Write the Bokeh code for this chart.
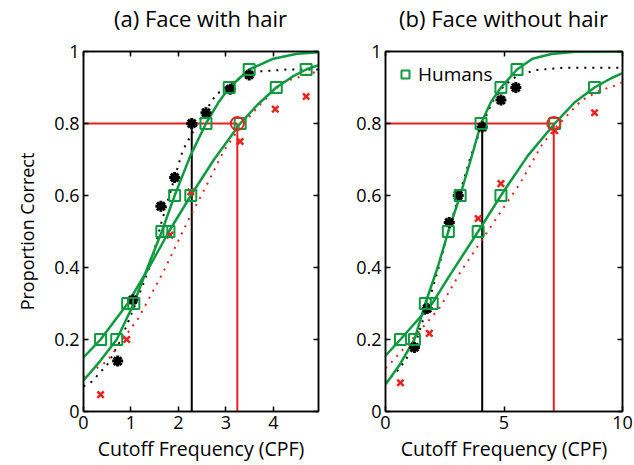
from bokeh.plotting import figure
from bokeh.layouts import row, column
from bokeh.models import FixedTicker, LinearAxis, Range1d, Div
from bokeh.embed import file_html
from bokeh.resources import INLINE

GREEN = "#0e9a3f"
RED = "#e8231f"
FONT = "Open Sans"

# ---------------- data: panel (a) Face with hair ----------------
a_title = "(a) Face with hair"
a_h1_x = [0.70, 1.06, 1.65, 1.92, 2.58, 3.07, 3.49]
a_h1_y = [0.20, 0.30, 0.50, 0.60, 0.80, 0.90, 0.95]
a_h2_x = [0.36, 0.93, 1.80, 2.26, 3.30, 4.06, 4.69]
a_h2_y = [0.20, 0.30, 0.50, 0.60, 0.80, 0.90, 0.95]
a_f1_x = [0.0, 0.35, 0.70, 1.06, 1.35, 1.65, 1.92, 2.25, 2.58, 2.85, 3.07, 3.49, 4.0, 4.5, 4.95]
a_f1_y = [0.086, 0.14, 0.20, 0.30, 0.40, 0.50, 0.60, 0.71, 0.80, 0.86, 0.90, 0.95, 0.98, 0.994, 0.998]
a_f2_x = [0.0, 0.36, 0.93, 1.38, 1.80, 2.26, 2.75, 3.30, 3.65, 4.06, 4.40, 4.69, 4.95]
a_f2_y = [0.15, 0.20, 0.30, 0.40, 0.50, 0.60, 0.70, 0.80, 0.85, 0.90, 0.93, 0.95, 0.962]
a_m1_x = [0.72, 1.04, 1.63, 1.92, 2.28, 2.58, 3.09, 3.49]
a_m1_y = [0.14, 0.31, 0.57, 0.65, 0.80, 0.83, 0.895, 0.935]
a_m1c_x = [0.0, 0.15, 0.5, 0.78, 1.1, 1.42, 1.63, 2.09, 2.4, 2.79, 3.2, 3.74, 4.3, 4.95]
a_m1c_y = [0.07, 0.08, 0.13, 0.197, 0.30, 0.41, 0.52, 0.725, 0.80, 0.88, 0.92, 0.945, 0.95, 0.95]
a_m2_x = [0.36, 0.91, 1.82, 2.26, 3.30, 4.04, 4.69]
a_m2_y = [0.047, 0.20, 0.49, 0.61, 0.75, 0.84, 0.875]
a_m2c_x = [0.0, 0.5, 1.16, 1.69, 2.2, 2.6, 2.96, 3.3, 3.7, 4.2, 4.8, 4.95]
a_m2c_y = [0.095, 0.14, 0.26, 0.39, 0.53, 0.63, 0.725, 0.79, 0.85, 0.915, 0.94, 0.945]
a_thr_black = 2.28
a_thr_red = 3.24
a_xticks = [0, 1, 2, 3, 4]

# ---------------- data: panel (b) Face without hair ----------------
b_title = "(b) Face without hair"
b_h1_x = [1.22, 1.68, 2.65, 3.15, 4.03, 4.87, 5.55]
b_h1_y = [0.20, 0.30, 0.50, 0.60, 0.80, 0.90, 0.95]
b_h2_x = [0.63, 1.97, 3.91, 4.87, 7.14, 8.82]
b_h2_y = [0.20, 0.30, 0.50, 0.60, 0.80, 0.90]
b_f1_x = [0.0, 0.6, 1.22, 1.68, 2.2, 2.65, 3.15, 3.6, 4.03, 4.45, 4.87, 5.55, 6.2, 7.0, 8.0, 10.0]
b_f1_y = [0.075, 0.13, 0.20, 0.30, 0.40, 0.50, 0.60, 0.70, 0.80, 0.86, 0.90, 0.95, 0.98, 0.993, 0.999, 1.0]
b_f2_x = [0.0, 0.63, 1.97, 2.65, 3.91, 4.87, 6.0, 7.14, 8.0, 8.82, 9.5, 10.0]
b_f2_y = [0.155, 0.20, 0.30, 0.372, 0.50, 0.60, 0.71, 0.80, 0.86, 0.90, 0.925, 0.94]
b_m1_x = [1.22, 1.76, 2.69, 3.07, 4.08, 4.87, 5.50]
b_m1_y = [0.178, 0.286, 0.525, 0.60, 0.79, 0.865, 0.90]
b_m1c_x = [0.0, 0.6, 1.22, 1.76, 2.2, 2.69, 3.15, 3.6, 4.05, 4.5, 5.0, 5.5, 6.3, 7.5, 10.0]
b_m1c_y = [0.08, 0.12, 0.18, 0.29, 0.39, 0.51, 0.61, 0.71, 0.79, 0.86, 0.905, 0.93, 0.948, 0.955, 0.955]
b_m2_x = [0.63, 1.85, 3.91, 4.87, 7.14, 8.82]
b_m2_y = [0.08, 0.217, 0.536, 0.633, 0.78, 0.83]
b_m2c_x = [0.0, 0.2, 1.39, 2.31, 3.15, 4.41, 5.67, 6.64, 7.2, 8.28, 9.0, 9.66, 10.0]
b_m2c_y = [0.12, 0.133, 0.22, 0.29, 0.386, 0.51, 0.633, 0.745, 0.79, 0.865, 0.89, 0.905, 0.915]
b_thr_black = 4.08
b_thr_red = 7.10
b_xticks = [0, 5, 10]

y_ticks = [0, 0.2, 0.4, 0.6, 0.8, 1]
y_labels = {0: "0", 0.2: "0.2", 0.4: "0.4", 0.6: "0.6", 0.8: "0.8", 1: "1"}

TITLE_H = 36
FIG_H = 465 - TITLE_H


def style_axis(ax, ticks, hidden=False):
    ax.ticker = FixedTicker(ticks=ticks)
    ax.minor_tick_line_color = None
    ax.major_tick_in = 5
    ax.major_tick_out = 0
    ax.major_tick_line_color = "black"
    ax.major_tick_line_width = 1.5
    ax.axis_line_color = "black"
    ax.axis_line_width = 1.5
    ax.major_label_text_font = FONT
    ax.major_label_text_color = "black"
    if hidden:
        ax.major_label_text_font_size = "1px"
        ax.major_label_text_alpha = 0
        ax.major_label_standoff = 0
    else:
        ax.major_label_text_font_size = "18px"
        ax.major_label_standoff = 4


def make_title(text, width, left, frame_w):
    html = ('<div style="margin-left:%dpx;width:%dpx;text-align:center;'
            'font-family:\'Open Sans\';font-size:22px;line-height:%dpx;color:black;'
            'white-space:nowrap;">%s</div>' % (left, frame_w, TITLE_H, text))
    return Div(text=html, width=width, height=TITLE_H, margin=0)


def make_panel(xmax, xticks, width, left, right, ylabel,
               f1x, f1y, f2x, f2y, h1x, h1y, h2x, h2y,
               m1cx, m1cy, m1x, m1y, m2cx, m2cy, m2x, m2y,
               thr_b, thr_r, legend=False):
    p = figure(width=width, height=FIG_H, output_backend="svg", toolbar_location=None,
               x_range=Range1d(0, xmax), y_range=Range1d(0, 1),
               min_border_left=left, min_border_right=right,
               min_border_top=51 - TITLE_H, min_border_bottom=54,
               x_axis_label="Cutoff Frequency (CPF)",
               y_axis_label=ylabel, margin=0)
    p.grid.visible = False
    p.outline_line_color = "black"
    p.outline_line_width = 1.5
    p.background_fill_color = "white"
    p.border_fill_color = "white"

    style_axis(p.xaxis[0], xticks)
    style_axis(p.yaxis[0], y_ticks)
    p.yaxis[0].major_label_overrides = y_labels
    for ax in (p.xaxis[0], p.yaxis[0]):
        ax.axis_label_text_font = FONT
        ax.axis_label_text_font_style = "normal"
        ax.axis_label_text_color = "black"
    p.xaxis[0].axis_label_text_font_size = "19.5px"
    p.yaxis[0].axis_label_text_font_size = "18px"
    p.xaxis[0].axis_label_standoff = 3
    p.yaxis[0].axis_label_standoff = 12

    top = LinearAxis()
    style_axis(top, xticks, hidden=True)
    p.add_layout(top, "above")
    rt = LinearAxis()
    style_axis(rt, y_ticks, hidden=True)
    p.add_layout(rt, "right")

    # threshold lines
    p.line([thr_b, thr_b], [0, 0.8], line_color="black", line_width=2)
    p.line([thr_r, thr_r], [0, 0.8], line_color=RED, line_width=2)
    p.line([0, thr_r], [0.8, 0.8], line_color=RED, line_width=2)

    # model curves (dotted)
    p.line(m1cx, m1cy, line_color="black", line_width=2, line_dash="2 6")
    p.line(m2cx, m2cy, line_color=RED, line_width=2, line_dash="2 6")
    # human fits
    p.line(f1x, f1y, line_color=GREEN, line_width=2.5)
    p.line(f2x, f2y, line_color=GREEN, line_width=2.5)

    # markers
    p.scatter(m1x, m1y, marker="asterisk", size=11, line_color="black", line_width=3)
    p.scatter(m2x, m2y, marker="x", size=9, line_color=RED, line_width=2.5)
    p.scatter(h2x, h2y, marker="square", size=11, fill_color=None,
              line_color=GREEN, line_width=2)
    if legend:
        p.scatter(h1x, h1y, marker="square", size=11, fill_color=None,
                  line_color=GREEN, line_width=2, legend_label="Humans")
    else:
        p.scatter(h1x, h1y, marker="square", size=11, fill_color=None,
                  line_color=GREEN, line_width=2)
    p.scatter([thr_r], [0.8], marker="circle", size=13, fill_color=None,
              line_color=RED, line_width=2)

    if legend:
        lg = p.legend[0]
        lg.location = "top_left"
        lg.border_line_alpha = 0
        lg.background_fill_alpha = 0
        lg.label_text_font = FONT
        lg.label_text_font_size = "19px"
        lg.label_text_color = "black"
        lg.margin = 6
        lg.padding = 4
        lg.glyph_width = 20
        lg.glyph_height = 20
        lg.label_standoff = 3
    return p


pa = make_panel(4.95, a_xticks, 340, 83, 22, "Proportion Correct",
                a_f1_x, a_f1_y, a_f2_x, a_f2_y, a_h1_x, a_h1_y, a_h2_x, a_h2_y,
                a_m1c_x, a_m1c_y, a_m1_x, a_m1_y, a_m2c_x, a_m2c_y, a_m2_x, a_m2_y,
                a_thr_black, a_thr_red)
pb = make_panel(10, b_xticks, 294, 45, 12, None,
                b_f1_x, b_f1_y, b_f2_x, b_f2_y, b_h1_x, b_h1_y, b_h2_x, b_h2_y,
                b_m1c_x, b_m1c_y, b_m1_x, b_m1_y, b_m2c_x, b_m2c_y, b_m2_x, b_m2_y,
                b_thr_black, b_thr_red, legend=True)

ta = make_title(a_title, 340, 83, 235)
tb = make_title(b_title, 294, 45, 237)

layout = column(row(ta, tb, spacing=0), row(pa, pb, spacing=0), spacing=0)
open("out.html", "w").write(file_html(layout, INLINE))
